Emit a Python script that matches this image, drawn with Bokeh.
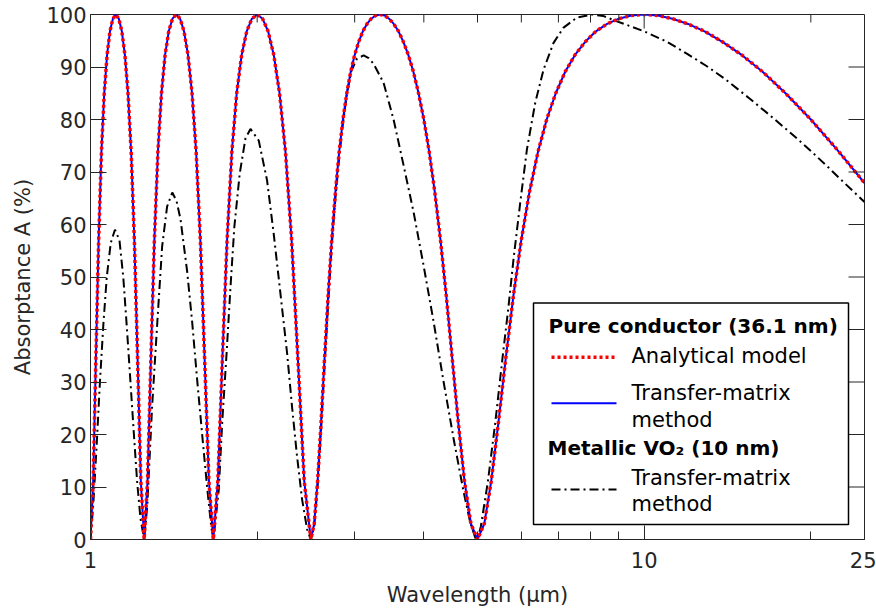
import math
from bokeh.plotting import figure
from bokeh.models import Range1d, FixedTicker, BoxAnnotation, Label
from bokeh.embed import file_html
from bokeh.resources import INLINE

# ---------------- data ----------------
# Pure conductor (36.1 nm): wavelength (um) and absorptance (%)
wl_pure = [
    1.0, 1.0112, 1.0227, 1.0345, 1.0465, 1.0588, 1.0714, 1.0843, 1.0976, 1.1111, 1.125, 1.1392, 1.1538, 1.1688, 1.1842, 1.2, 1.2162, 1.2329, 1.25,
    1.2676, 1.2857, 1.3043, 1.3235, 1.3433, 1.3636, 1.3846, 1.4063, 1.4286, 1.4516, 1.4754, 1.5, 1.5254, 1.5517, 1.5789, 1.6071, 1.6364, 1.6667,
    1.6981, 1.7308, 1.7647, 1.8, 1.8367, 1.875, 1.9149, 1.9565, 2.0, 2.0455, 2.093, 2.1429, 2.1951, 2.25, 2.3077, 2.3684, 2.4324, 2.5,
    2.5352, 2.5714, 2.6087, 2.6471, 2.6866, 2.7273, 2.7692, 2.8125, 2.8571, 2.9032, 2.9508, 3.0, 3.0508, 3.1034, 3.1579, 3.2143, 3.2727, 3.3333,
    3.3962, 3.4615, 3.5294, 3.6, 3.6735, 3.75, 3.8298, 3.913, 4.0, 4.0909, 4.186, 4.2857, 4.3902, 4.5, 4.6154, 4.7368, 4.8649, 5.0,
    5.1429, 5.2941, 5.4545, 5.625, 5.8065, 6.0, 6.2069, 6.4286, 6.6667, 6.9231, 7.2, 7.5, 7.8261, 8.1818, 8.5714, 9.0, 9.4737, 10.0,
    10.588, 11.25, 12.0, 12.857, 13.846, 15.0, 16.364, 18.0, 20.0, 22.5, 25.0,
]
abs_analytical = [
    0, 11.1, 34.6, 57.1, 73.8, 85.0, 92.3, 96.8, 99.2, 100, 99.2, 96.8, 92.3, 85.0, 73.8, 57.1, 34.6, 11.1, 0,
    11.1, 34.6, 57.1, 73.8, 85.0, 92.3, 96.8, 99.2, 100, 99.2, 96.8, 92.3, 85.0, 73.8, 57.1, 34.6, 11.1, 0,
    11.1, 34.6, 57.1, 73.8, 85.0, 92.3, 96.8, 99.2, 100, 99.2, 96.8, 92.3, 85.0, 73.8, 57.1, 34.6, 11.1, 0,
    3.0, 11.1, 22.3, 34.6, 46.5, 57.1, 66.2, 73.8, 80.0, 85.0, 89.1, 92.3, 94.8, 96.8, 98.2, 99.2, 99.8, 100,
    99.8, 99.2, 98.2, 96.8, 94.8, 92.3, 89.1, 85.0, 80.0, 73.8, 66.2, 57.1, 46.5, 34.6, 22.3, 11.1, 3.0, 0,
    3.0, 11.1, 22.3, 34.6, 46.5, 57.1, 66.2, 73.8, 80.0, 85.0, 89.1, 92.3, 94.8, 96.8, 98.2, 99.2, 99.8, 100,
    99.8, 99.2, 98.2, 96.8, 94.8, 92.3, 89.1, 85.0, 80.0, 73.8, 67.9,
]
# transfer-matrix result is indistinguishable from the analytical model in the picture
abs_tmm = list(abs_analytical)

# Metallic VO2 (10 nm), transfer-matrix method
wl_vo2 = [
    1.0, 1.012, 1.026, 1.040, 1.055, 1.070, 1.088, 1.107, 1.128, 1.146, 1.163, 1.180, 1.197, 1.214, 1.231, 1.25,
    1.266, 1.292, 1.320, 1.347, 1.375, 1.405, 1.43, 1.454, 1.495, 1.526, 1.558, 1.591, 1.624, 1.652, 1.667,
    1.705, 1.729, 1.760, 1.789, 1.819, 1.860, 1.905, 1.945, 2.013, 2.084, 2.142, 2.203, 2.265, 2.312, 2.361, 2.411, 2.462, 2.5,
    2.535, 2.571, 2.609, 2.647, 2.687, 2.727, 2.769, 2.813, 2.857, 2.906, 2.96, 3.029, 3.114, 3.18, 3.246, 3.383,
    3.527, 3.678, 3.834, 3.997, 4.167, 4.343, 4.527, 4.719, 4.852, 4.955, 5.0,
    5.07, 5.22, 5.38, 5.547, 5.69, 5.808, 5.973, 6.141, 6.357, 6.58, 6.86, 7.152, 7.558, 8.06, 8.446, 8.927, 10.0,
    11.0, 12.0, 13.0, 14.0, 15.5, 17.0, 18.5, 20.0, 21.5, 23.0, 25.0,
]
abs_vo2 = [
    0, 7, 18, 30, 41, 50, 56.5, 59, 57, 50, 40.5, 30.5, 20.5, 11, 4, 0,
    6.3, 25.3, 41.2, 55.8, 63.4, 66.1, 64.5, 61, 51, 41.5, 30.5, 20, 10, 2.5, 0,
    9.5, 22.2, 35, 47.7, 59.6, 69.7, 76.4, 78.2, 76, 68.4, 58.3, 46.9, 35.5, 25.3, 15.8, 7.6, 1.9, 0,
    2.5, 10, 21, 33, 45, 56, 65, 72.8, 79.2, 85, 89.3, 91.6, 92.2, 91.7, 90.6, 87,
    80, 71.2, 62.3, 52.1, 41.4, 30, 19.2, 9.1, 3.2, 0.3, 0,
    2.5, 11, 22, 34.5, 44.5, 53.4, 64.2, 74.3, 83.2, 89.5, 94.6, 97.5, 99.4, 100, 99.7, 98.7, 96.8,
    94.8, 92.4, 90.1, 87.7, 84.0, 80.5, 77.2, 74.0, 70.9, 67.9, 64.3,
]

x_major_ticks = [1, 10, 25]
x_tick_labels = ["1", "10", "25"]
x_minor_ticks = [2, 3, 4, 5, 6, 7, 8, 9, 20]
y_ticks = [0, 10, 20, 30, 40, 50, 60, 70, 80, 90, 100]

# ---------------- layout ----------------
W, H = 876, 609
FL, FR, FT, FB = 90, 864, 14, 540
XMIN, XMAX, YMIN, YMAX = 1, 25, 0, 100
AX = "#262626"
FONT = "DejaVu Sans"
X_MAJOR_LEN, X_MINOR_LEN, Y_MAJOR_LEN = 14, 8, 16
RED_DASH = "3 3"
BLACK_DASH = "9 4 2 4"


def sx(px):
    return 10 ** (math.log10(XMIN) + (px - FL) / (FR - FL) * (math.log10(XMAX) - math.log10(XMIN)))


def sy(py):
    return YMIN + (FB - py) / (FB - FT) * (YMAX - YMIN)


p = figure(width=W, height=H, x_axis_type="log",
           x_range=Range1d(XMIN, XMAX), y_range=Range1d(YMIN, YMAX),
           output_backend="svg", toolbar_location=None,
           min_border_left=FL, min_border_right=W - FR,
           min_border_top=FT, min_border_bottom=H - FB,
           x_axis_label="Wavelength (\u00b5m)", y_axis_label="Absorptance A (%)")
p.xgrid.visible = False
p.ygrid.visible = False
p.outline_line_color = AX
p.outline_line_width = 1
p.outline_line_alpha = 1
p.background_fill_color = "white"
p.border_fill_color = "white"

# curves
p.line(wl_vo2, abs_vo2, line_color="black", line_width=2, line_dash=BLACK_DASH)
p.line(wl_pure, abs_tmm, line_color="#0000ff", line_width=2)
p.line(wl_pure, abs_analytical, line_color="#ff0000", line_width=3.5, line_dash=RED_DASH)

overrides = {t: s for t, s in zip(x_major_ticks, x_tick_labels)}


def style_axis(ax, is_x):
    ax.axis_line_color = AX
    ax.major_tick_line_color = AX
    ax.minor_tick_line_color = AX
    ax.major_tick_out = 0
    ax.minor_tick_out = 0
    ax.major_tick_in = X_MAJOR_LEN if is_x else Y_MAJOR_LEN
    ax.minor_tick_in = X_MINOR_LEN if is_x else 0
    ax.major_label_text_font = FONT
    ax.major_label_text_font_size = "21px"
    ax.major_label_text_color = AX
    ax.axis_label_text_font = FONT
    ax.axis_label_text_font_size = "21px"
    ax.axis_label_text_font_style = "normal"
    ax.axis_label_text_color = AX


xa = p.xaxis[0]
xa.ticker = FixedTicker(ticks=x_major_ticks, minor_ticks=x_minor_ticks)
xa.major_label_overrides = overrides
style_axis(xa, True)
xa.major_label_standoff = 12
xa.axis_label_standoff = 12

ya = p.yaxis[0]
ya.ticker = FixedTicker(ticks=y_ticks, minor_ticks=[])
style_axis(ya, False)
ya.major_label_standoff = 4
ya.axis_label_standoff = 8

# box ticks on the top and right edges (MATLAB "box on")
top_major = [t for t in x_major_ticks if XMIN < t < XMAX]
p.segment(x0=top_major, y0=[YMAX] * len(top_major), x1=top_major,
          y1=[sy(FT + X_MAJOR_LEN)] * len(top_major), line_color=AX, line_width=1)
p.segment(x0=x_minor_ticks, y0=[YMAX] * len(x_minor_ticks), x1=x_minor_ticks,
          y1=[sy(FT + X_MINOR_LEN)] * len(x_minor_ticks), line_color=AX, line_width=1)
right_ticks = [t for t in y_ticks if YMIN < t < YMAX]
p.segment(x0=[XMAX] * len(right_ticks), y0=right_ticks, x1=[sx(FR - Y_MAJOR_LEN)] * len(right_ticks),
          y1=right_ticks, line_color=AX, line_width=1)

# ---------------- legend (drawn by hand, two groups) ----------------
box = BoxAnnotation(left=sx(533), right=sx(848), top=sy(303), bottom=sy(525),
                    fill_color="white", fill_alpha=1.0, line_color="black", line_alpha=1.0,
                    line_width=1.5, level="annotation")
p.add_layout(box)

SX0, SX1, TX = 551, 616, 631


def leg_text(px, py, txt, bold=False):
    p.add_layout(Label(x=sx(px), y=sy(py), text=txt, text_font=FONT,
                       text_font_size="20px" if bold else "21px",
                       text_font_style="bold" if bold else "normal",
                       text_color="black", text_baseline="middle", text_align="left",
                       level="overlay"))


leg_text(548, 326, "Pure conductor (36.1 nm)", bold=True)
p.line([sx(SX0), sx(SX1)], [sy(357.5), sy(357.5)], line_color="#ff0000", line_width=3.5,
       line_dash=RED_DASH, level="overlay")
leg_text(TX, 356, "Analytical model")
p.line([sx(SX0), sx(SX1)], [sy(403.5), sy(403.5)], line_color="#0000ff", line_width=2,
       level="overlay")
leg_text(TX, 393, "Transfer-matrix")
leg_text(TX, 420, "method")
leg_text(547, 448, "Metallic VO\u2082 (10 nm)", bold=True)
p.line([sx(SX0), sx(SX1)], [sy(490), sy(490)], line_color="black", line_width=2,
       line_dash=BLACK_DASH, level="overlay")
leg_text(TX, 478, "Transfer-matrix")
leg_text(TX, 504, "method")

open("out.html", "w").write(file_html(p, INLINE))
